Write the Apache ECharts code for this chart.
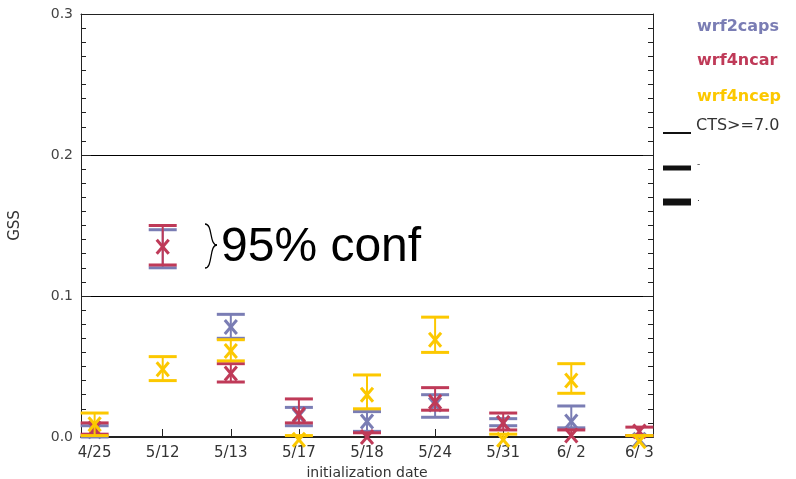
<!DOCTYPE html>
<html>
<head>
<meta charset="utf-8">
<script src="https://cdn.jsdelivr.net/npm/echarts@6/dist/echarts.min.js"></script>
<style>
html,body{margin:0;padding:0;background:#fff;}
#main{width:796px;height:479px;}
</style>
</head>
<body>
<div id="main"></div>
<script>
// init dates / GSS with 95% conf bounds
var dates = ['4/25', '5/12', '5/13', '5/17', '5/18', '5/24', '5/31', '6/ 2', '6/ 3'];
var yTicks = [0, 0.1, 0.2, 0.3];

var capsMid = [0.004, null, 0.078, 0.015, 0.011, 0.023, 0.010, 0.011, -0.002];
var capsLo  = [0.000, null, 0.070, 0.008, 0.004, 0.014, 0.008, 0.0065, -0.005];
var capsHi  = [0.008, null, 0.087, 0.021, 0.018, 0.030, 0.013, 0.022, 0.001];

var ncarMid = [0.006, null, 0.045, 0.016, 0.000, 0.025, 0.010, 0.001, 0.004];
var ncarLo  = [0.002, null, 0.039, 0.010, -0.003, 0.019, 0.005, -0.003, 0.001];
var ncarHi  = [0.010, null, 0.052, 0.027, 0.003, 0.035, 0.017, 0.005, 0.007];

var ncepMid = [0.009, 0.048, 0.061, -0.002, 0.030, 0.069, -0.002, 0.040, -0.003];
var ncepLo  = [0.001, 0.040, 0.054, -0.006, 0.020, 0.060, -0.006, 0.031, -0.007];
var ncepHi  = [0.017, 0.057, 0.069, 0.001, 0.044, 0.085, 0.002, 0.052, 0.001];

// the "95% conf" example bar
var sampleX = [1];
var sampleBlueMid = [0.134], sampleBlueLo = [0.120], sampleBlueHi = [0.147];
var sampleRedMid = [0.135], sampleRedLo = [0.122], sampleRedHi = [0.150];

var cBlue = '#7a7db4', cRed = '#bf3a58', cYellow = '#fcc800';

function rows(xs, mid, lo, hi) {
    var out = [];
    for (var i = 0; i < mid.length; i++) {
        if (mid[i] == null) continue;
        out.push([xs ? xs[i] : i, mid[i], lo[i], hi[i]]);
    }
    return out;
}

function errBar(color, showMark) {
    return function (params, api) {
        var x = api.value(0);
        var pm = api.coord([x, api.value(1)]);
        var pl = api.coord([x, api.value(2)]);
        var ph = api.coord([x, api.value(3)]);
        var p0 = api.coord([x, 0]);
        var hw = 14, st = {stroke: color, lineWidth: 3};
        var lowY = Math.min(pl[1], p0[1] + 1);
        var kids = [
            {type: 'line', shape: {x1: pm[0], y1: ph[1], x2: pm[0], y2: lowY}, style: {stroke: color, lineWidth: 2}},
            {type: 'line', shape: {x1: pm[0] - hw, y1: ph[1], x2: pm[0] + hw, y2: ph[1]}, style: st}
        ];
        // lower cap is cut off at the axis, like the original plot
        if (pl[1] <= p0[1] + 1) {
            kids.push({type: 'line', shape: {x1: pm[0] - hw, y1: pl[1], x2: pm[0] + hw, y2: pl[1]}, style: st});
        }
        if (showMark) {
            kids.push({type: 'line', shape: {x1: pm[0] - 6, y1: pm[1] - 7, x2: pm[0] + 6, y2: pm[1] + 7}, style: st});
            kids.push({type: 'line', shape: {x1: pm[0] - 6, y1: pm[1] + 7, x2: pm[0] + 6, y2: pm[1] - 7}, style: st});
        }
        return {type: 'group', children: kids};
    };
}

function series(name, color, data, mark) {
    return {
        name: name, type: 'custom', clip: false, silent: true,
        encode: {x: 0, y: [1, 2, 3]},
        renderItem: errBar(color, mark),
        data: data
    };
}

var chart = echarts.init(document.getElementById('main'));
var txt = '#333';
var idx = [0, 1, 2, 3, 4, 5, 6, 7, 8];

var option = {
    animation: false,
    backgroundColor: '#fff',
    grid: {left: 81, right: 143, top: 14, bottom: 42, containLabel: false, outerBoundsMode: 'none'},
    xAxis: [{
        type: 'value', min: -0.2, max: 8.2, position: 'bottom',
        name: 'initialization date', nameLocation: 'middle', nameGap: 26,
        nameTextStyle: {fontFamily: 'DejaVu Sans', fontSize: 14, color: txt},
        axisLine: {show: true, onZero: false, lineStyle: {color: '#222', width: 2}},
        axisTick: {show: true, inside: true, length: 8, customValues: idx, lineStyle: {color: '#222'}},
        axisLabel: {customValues: idx, margin: 9, fontFamily: 'DejaVu Sans', fontSize: 15, color: txt,
            formatter: function (v) { return dates[Math.round(v)]; }},
        splitLine: {show: false}
    }, {
        type: 'value', min: -0.2, max: 8.2, position: 'top',
        axisLine: {show: true, onZero: false, lineStyle: {color: '#222', width: 1}},
        axisTick: {show: false}, axisLabel: {show: false}, splitLine: {show: false}
    }],
    yAxis: [{
        type: 'value', min: 0, max: 0.3, interval: 0.1, position: 'left',
        name: 'GSS', nameLocation: 'middle', nameGap: 58,
        nameTextStyle: {fontFamily: 'DejaVu Sans', fontSize: 15, color: txt},
        axisLine: {show: true, onZero: false, lineStyle: {color: '#222', width: 1}},
        axisTick: {show: true, inside: true, length: 10, lineStyle: {color: '#222'}},
        minorTick: {show: true, splitNumber: 10, length: 5, lineStyle: {color: '#222'}},
        axisLabel: {margin: 8, fontFamily: 'DejaVu Sans', fontSize: 14, color: '#444',
            formatter: function (v) { return v.toFixed(1); }},
        splitLine: {show: true, lineStyle: {color: '#000', width: 1}}
    }, {
        type: 'value', min: 0, max: 0.3, interval: 0.1, position: 'right',
        axisLine: {show: true, onZero: false, lineStyle: {color: '#222', width: 1}},
        axisTick: {show: true, inside: true, length: 10, lineStyle: {color: '#222'}},
        minorTick: {show: true, splitNumber: 10, length: 5, lineStyle: {color: '#222'}},
        axisLabel: {show: false}, splitLine: {show: false}
    }],
    series: [
        series('wrf2caps', cBlue, rows(null, capsMid, capsLo, capsHi), true),
        series('wrf4ncar', cRed, rows(null, ncarMid, ncarLo, ncarHi), true),
        series('wrf4ncep', cYellow, rows(null, ncepMid, ncepLo, ncepHi), true),
        series('sample blue', cBlue, rows(sampleX, sampleBlueMid, sampleBlueLo, sampleBlueHi), false),
        series('sample red', cRed, rows(sampleX, sampleRedMid, sampleRedLo, sampleRedHi), true)
    ],
    graphic: [
        {type: 'text', left: 697, top: 19, style: {text: 'wrf2caps', fill: cBlue, font: 'bold 16px "DejaVu Sans"'}},
        {type: 'text', left: 697, top: 53, style: {text: 'wrf4ncar', fill: cRed, font: 'bold 16px "DejaVu Sans"'}},
        {type: 'text', left: 697, top: 89, style: {text: 'wrf4ncep', fill: cYellow, font: 'bold 16px "DejaVu Sans"'}},
        {type: 'text', left: 696, top: 118, style: {text: 'CTS>=7.0', fill: txt, font: '16px "DejaVu Sans"'}},
        {type: 'line', shape: {x1: 663, y1: 133, x2: 691, y2: 133}, style: {stroke: '#111', lineWidth: 2}},
        {type: 'line', shape: {x1: 663, y1: 168, x2: 691, y2: 168}, style: {stroke: '#111', lineWidth: 5}},
        {type: 'text', left: 697, top: 160, style: {text: '-', fill: txt, font: '9px "DejaVu Sans"'}},
        {type: 'line', shape: {x1: 663, y1: 202, x2: 691, y2: 202}, style: {stroke: '#111', lineWidth: 7}},
        {type: 'text', left: 697, top: 194, style: {text: '.', fill: txt, font: '9px "DejaVu Sans"'}},
        {type: 'bezierCurve', shape: {x1: 205, y1: 224, cpx1: 213, cpy1: 224, cpx2: 209, cpy2: 245, x2: 217, y2: 245},
            style: {stroke: '#000', lineWidth: 1.3, fill: null}},
        {type: 'bezierCurve', shape: {x1: 217, y1: 245, cpx1: 209, cpy1: 245, cpx2: 213, cpy2: 268, x2: 205, y2: 268},
            style: {stroke: '#000', lineWidth: 1.3, fill: null}},
        {type: 'text', left: 221, top: 224, style: {text: '95% conf', fill: '#000', font: '48px "Liberation Sans"'}}
    ]
};
chart.setOption(option);
</script>
</body>
</html>
